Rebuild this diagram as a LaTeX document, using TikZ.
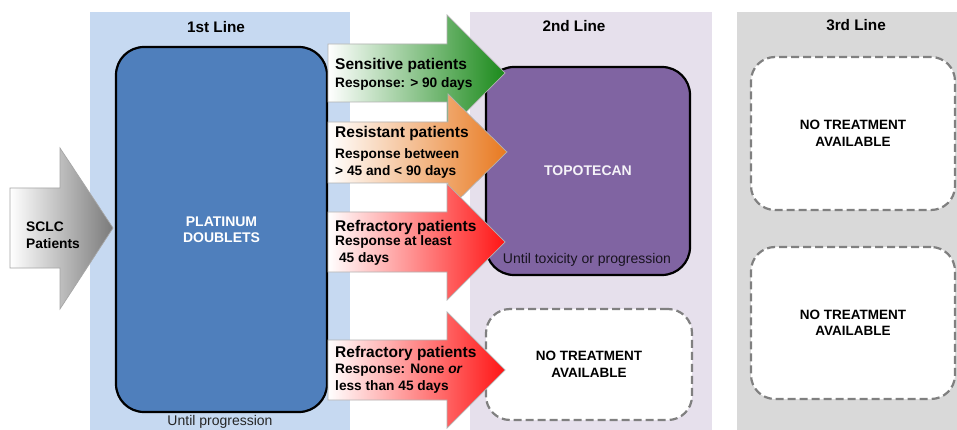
\documentclass[tikz,border=0pt]{standalone}
\usepackage{fontspec}
\setmainfont{Liberation Sans}
\definecolor{pblue}{HTML}{C6D9F1}
\definecolor{plav}{HTML}{E6E0EC}
\definecolor{pgray}{HTML}{D9D9D9}
\definecolor{platfill}{HTML}{4F7FBC}
\definecolor{topofill}{HTML}{8064A2}
\definecolor{dashgray}{HTML}{808080}
\definecolor{agreen}{HTML}{1B8A1B}
\definecolor{aorange}{HTML}{E8791F}
\definecolor{ared}{HTML}{FF1515}
\definecolor{agray}{HTML}{7A7A7A}
\begin{document}
\begin{tikzpicture}[x=1pt,y=-1pt,
  hdr/.style={font=\bfseries\fontsize{15.3}{18}\selectfont},
  bigbox/.style={draw=black, line width=2.2pt, rounded corners=28pt, inner sep=0pt},
  ntbox/.style={draw=dashgray, dash pattern=on 8pt off 4pt, line width=2.2pt, fill=white, rounded corners=24pt, inner sep=0pt, align=center, font=\bfseries\fontsize{13.5}{16.5}\selectfont},
  arrowshape/.style={draw=gray!60, line width=0.7pt},
  ttl/.style={font=\bfseries\fontsize{15.5}{18}\selectfont, anchor=west, inner sep=0pt},
  subt/.style={font=\bfseries\fontsize{13.7}{17}\selectfont, anchor=west, align=left, inner sep=0pt},
  note/.style={font=\fontsize{14}{17}\selectfont, text=black!85}]
\useasboundingbox (0,0) rectangle (957,430);
\fill[white] (0,0) rectangle (957,430);
% panels
\fill[pblue] (90,12) rectangle (350,430);
\fill[plav] (470,12) rectangle (712,430);
\fill[pgray] (737,12) rectangle (957,430);
\node[hdr] (h1) at (216,27) {1st Line};
\node[hdr] (h2) at (574,26) {2nd Line};
\node[hdr] (h3) at (856,25) {3rd Line};
% boxes
\node[bigbox, fill=platfill, minimum width=211pt, minimum height=365pt, align=center,
  font=\bfseries\fontsize{14}{16}\selectfont, text=white] (plat) at (221.5,229.5) {PLATINUM\\DOUBLETS};
\node[note] (until1) at (220,422) {Until progression};
\node[bigbox, fill=topofill, minimum width=204pt, minimum height=208pt,
  font=\bfseries\fontsize{14}{16}\selectfont, text=white!92!topofill] (topo) at (588,171) {TOPOTECAN};
\node[note, text=black!80!topofill] (until2) at (587,260) {Until toxicity or progression};
\node[ntbox, minimum width=206pt, minimum height=111pt] (nt2) at (589,364.5) {NO TREATMENT\\AVAILABLE};
\node[ntbox, minimum width=204pt, minimum height=153pt] (nt3a) at (853,133.5) {NO TREATMENT\\AVAILABLE};
\node[ntbox, minimum width=204pt, minimum height=152pt] (nt3b) at (853,323) {NO TREATMENT\\AVAILABLE};
% SCLC arrow
\shade[left color=white, right color=agray, draw=gray!70, line width=0.7pt]
  (10,188) -- (60,188) -- (60,148) -- (113,228) -- (60,309) -- (60,268) -- (10,268) -- cycle;
\node[subt, font=\bfseries\fontsize{13.8}{17}\selectfont] (sclc) at (26,235) {SCLC\\Patients};
% response arrows
\shade[arrowshape, left color=white, right color=agreen]
  (328,44) -- (447,44) -- (447,15) -- (505,73) -- (447,131) -- (447,102) -- (328,102) -- cycle;
\shade[arrowshape, left color=white, right color=aorange]
  (328,122) -- (448,122) -- (448,94) -- (507,152) -- (448,210) -- (448,183) -- (328,183) -- cycle;
\shade[arrowshape, left color=white, right color=ared]
  (328,212) -- (447,212) -- (447,184) -- (505,242) -- (447,300) -- (447,272) -- (328,272) -- cycle;
\shade[arrowshape, left color=white, right color=ared]
  (328,340) -- (447,340) -- (447,312) -- (505,370) -- (447,428) -- (447,400) -- (328,400) -- cycle;
% arrow texts
\node[ttl] (t1) at (335,65) {Sensitive patients};
\node[subt] (s1) at (335,84) {Response: > 90 days};
\node[ttl] (t2) at (335,133) {Resistant patients};
\node[subt] (s2) at (335,163.5) {Response between\\> 45 and < 90 days};
\node[ttl] (t3) at (335,227) {Refractory patients};
\node[subt] (s3) at (335,250) {Response at least\\\ 45 days};
\node[ttl] (t4) at (335,353) {Refractory patients};
\node[subt] (s4) at (335,378.5) {Response: None \textit{or}\\less than 45 days};
\end{tikzpicture}
\end{document}
